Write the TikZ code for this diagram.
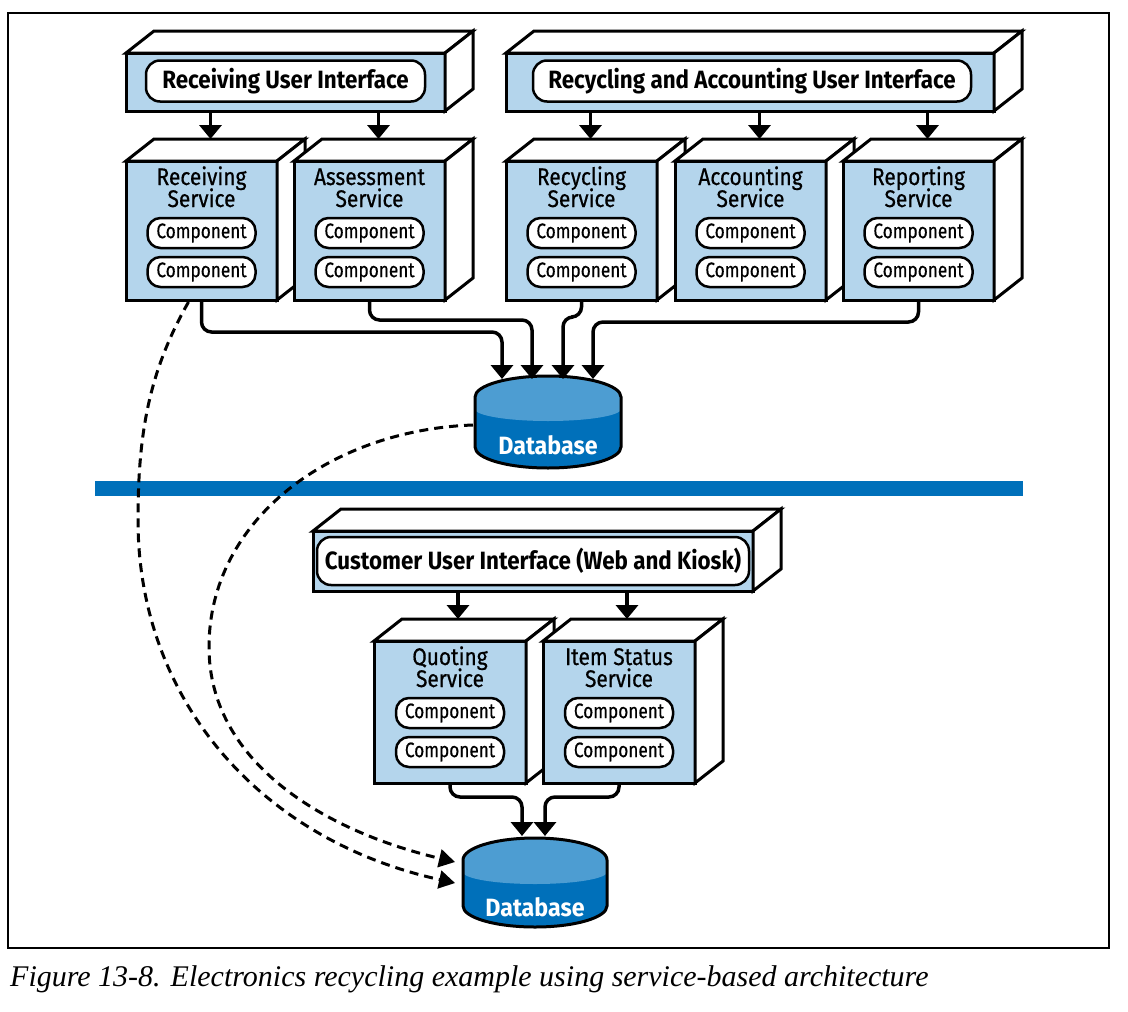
\documentclass[tikz,border=0pt]{standalone}
\usepackage{fontspec}
\setmainfont{Fira Sans}[FakeStretch=0.82]
\newfontfamily\titlefont{Fira Sans}[FakeStretch=0.895]
\newfontfamily\dbfont{Fira Sans}[FakeStretch=0.93]
\newfontfamily\svcfont{Fira Sans}[FakeStretch=0.87, FakeBold=0.6]
\newfontfamily\compfont{Fira Sans}[FakeStretch=0.82, FakeBold=0.4]
\newfontfamily\capfont{Liberation Serif}
\usetikzlibrary{arrows.meta,calc}
\definecolor{lblue}{HTML}{B4D5EC}
\definecolor{dblue}{HTML}{0070BA}
\definecolor{mblue}{HTML}{4D9DD2}
\tikzset{
  frontface/.style={draw, line width=3pt, fill=lblue, inner sep=0pt, outer sep=0pt},
  faceedge/.style={draw, line width=3pt, fill=white},
  uitext/.style={draw, line width=2.5pt, fill=white, rounded corners=14pt, inner sep=0pt,
     font=\titlefont\bfseries\fontsize{25}{28}\selectfont},
  svcline/.style={anchor=base, inner sep=0pt, font=\svcfont\fontsize{24}{26}\selectfont},
  comp/.style={draw, line width=2.5pt, fill=white, rounded corners=13pt, inner sep=0pt,
     minimum width=108pt, minimum height=30pt, font=\compfont\fontsize{21}{24}\selectfont},
  dbtext/.style={text=white, inner sep=0pt, font=\dbfont\bfseries\fontsize{25}{28}\selectfont},
  dbbox/.style={inner sep=0pt, outer sep=0pt},
  arr/.style={line width=3.5pt, -{Triangle[width=22pt,length=14pt]}},
  conn/.style={line width=3.5pt, rounded corners=10pt, -{Triangle[width=22pt,length=14pt]}},
  dasharr/.style={line width=3pt, dash pattern=on 9pt off 6pt, -{Triangle[width=18pt,length=16pt]}},
}
\newcommand\mycube[5]{%
  \node[frontface, minimum width=#4pt, minimum height=#5pt] (#1) at (#2,#3) {};
  \draw[faceedge] (#1.north west) -- ++(28,-22) -- ($(#1.north east)+(28,-22)$) -- (#1.north east) -- cycle;
  \draw[faceedge] (#1.north east) -- ++(28,-22) -- ($(#1.south east)+(28,-22)$) -- (#1.south east) -- cycle;
}
\newcommand\mysvc[3]{% name, line1, line2
  \node[svcline] (#1-t1) at ($(#1.north)+(0,24)$) {#2};
  \node[svcline] (#1-t2) at ($(#1.north)+(0,46)$) {#3};
  \node[comp] (#1-c1) at ($(#1.north)+(0,72)$) {Component};
  \node[comp] (#1-c2) at ($(#1.north)+(0,111)$) {Component};
}
\begin{document}
\begin{tikzpicture}[x=1pt,y=-1pt]
\useasboundingbox (0,0) rectangle (1128,1012);
\draw[line width=1.3pt] (8,13) rectangle (1109,948);

% ---- top UIs
\mycube{ui1}{285.5}{82}{319}{58}
\node[uitext, minimum width=279pt, minimum height=41pt] (ui1-t) at (285.5,81) {Receiving User Interface};
\mycube{ui2}{750}{82}{488}{58}
\node[uitext, minimum width=438pt, minimum height=41pt] (ui2-t) at (752,81) {Recycling and Accounting User Interface};

% ---- top services
\mycube{rs}{201.5}{230.5}{151}{139}
\mysvc{rs}{Receiving}{Service}
\mycube{as}{369.5}{230.5}{151}{139}
\mysvc{as}{Assessment}{Service}
\mycube{rcs}{581.5}{230.5}{151}{139}
\mysvc{rcs}{Recycling}{Service}
\mycube{acs}{750.5}{230.5}{151}{139}
\mysvc{acs}{Accounting}{Service}
\mycube{rps}{918.5}{230.5}{151}{139}
\mysvc{rps}{Reporting}{Service}

% ---- UI arrows (top)
\foreach \s/\u in {rs/ui1, as/ui1, rcs/ui2, acs/ui2, rps/ui2}{
  \draw[arr] ($(\u.south -| \s.north)+(9,0)$) -- ($(\s.north)+(9,-22)$);
}

% ---- database 1
\fill[dblue] (475,397) -- (475,447) arc[start angle=180,end angle=360,x radius=73pt,y radius=21pt] -- (621,397) -- cycle;
\fill[mblue] (475,397) arc[start angle=180,end angle=0,x radius=73pt,y radius=21pt] -- (621,409) arc[start angle=0,end angle=-180,x radius=73pt,y radius=12pt] -- cycle;
\draw[line width=3pt] (475,397) arc[start angle=180,end angle=0,x radius=73pt,y radius=21pt] -- (621,447) arc[start angle=0,end angle=-180,x radius=73pt,y radius=21pt] -- cycle;
\node[dbbox, minimum width=146pt, minimum height=92pt] (db1) at (548,422) {};
\node[dbtext] (db1-t) at (548,445) {Database};

% ---- connectors to database 1
\draw[conn] (rs.south) -- ++(0,32) -| ($(db1.north)+(-46,3)$);
\draw[conn] (as.south) -- ++(0,20) -| ($(db1.north)+(-16,3)$);
\draw[conn] (rcs.south) -- ++(0,17) -| ($(db1.north)+(15,3)$);
\draw[conn] (rps.south) -- ++(0,22) -| ($(db1.north)+(45,3)$);

% ---- separator bar
\fill[dblue] (95,481) rectangle (1023,496);

% ---- bottom UI
\mycube{ui3}{533}{561}{440}{60}
\node[uitext, minimum width=432pt, minimum height=48pt] (ui3-t) at (533,561) {Customer User Interface (Web and Kiosk)};

\mycube{qs}{450}{712}{152}{142}
\mysvc{qs}{Quoting}{Service}
\mycube{iss}{619}{712}{152}{142}
\mysvc{iss}{Item Status}{Service}

\foreach \s in {qs, iss}{
  \draw[arr] ($(ui3.south -| \s.north)+(8,0)$) -- ($(\s.north)+(8,-22)$);
}

% ---- database 2
\fill[dblue] (463,860) -- (463,906) arc[start angle=180,end angle=360,x radius=72pt,y radius=21pt] -- (607,860) -- cycle;
\fill[mblue] (463,860) arc[start angle=180,end angle=0,x radius=72pt,y radius=22pt] -- (607,872) arc[start angle=0,end angle=-180,x radius=72pt,y radius=12pt] -- cycle;
\draw[line width=3pt] (463,860) arc[start angle=180,end angle=0,x radius=72pt,y radius=22pt] -- (607,906) arc[start angle=0,end angle=-180,x radius=72pt,y radius=21pt] -- cycle;
\node[dbbox, minimum width=144pt, minimum height=90pt] (db2) at (535,882) {};
\node[dbtext] (db2-t) at (535,907) {Database};

\draw[conn] (qs.south) -- ++(0,14) -| ($(db2.north)+(-13,-1)$);
\draw[conn] (iss.south) -- ++(0,14) -| ($(db2.north)+(10,-1)$);

% ---- dashed connectors
\draw[dasharr] ($(rs.south)+(-13,2)$) .. controls (150,370) and (138,430) .. (138,520) .. controls (138,700) and (260,840) .. ($(db2.west)+(-8,1)$);
\draw[dasharr] ($(db1.west)+(-2,3)$) .. controls (330,430) and (209,520) .. (209,647) .. controls (209,760) and (320,830) .. ($(db2.west)+(-8,-20)$);

% ---- caption
\node[anchor=base west, inner sep=0pt, font=\capfont\itshape\fontsize{30}{33}\selectfont] (cap) at (10,986) {Figure 13-8. Electronics recycling example using service-based architecture};
\end{tikzpicture}
\end{document}
